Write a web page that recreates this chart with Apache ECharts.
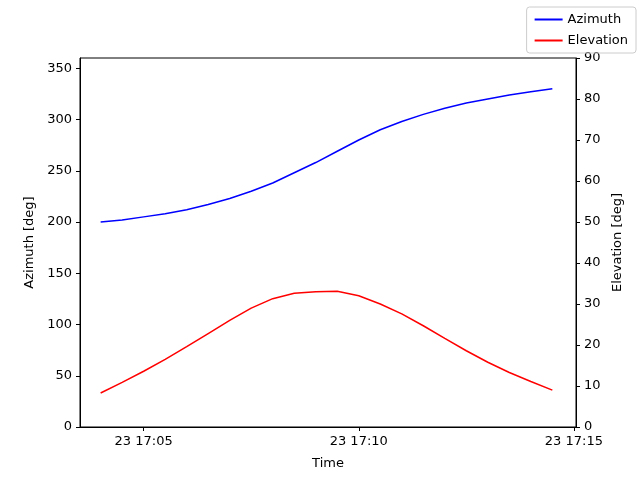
<!DOCTYPE html><html><head><meta charset="utf-8"><script src="https://cdn.jsdelivr.net/npm/echarts@6/dist/echarts.min.js"></script></head><body style="margin:0"><div id="c" style="width:640px;height:480px"></div><script>
const times=["17:04:00","17:04:30","17:05:00","17:05:30","17:06:00","17:06:30","17:07:00","17:07:30","17:08:00","17:08:30","17:09:00","17:09:30","17:10:00","17:10:30","17:11:00","17:11:30","17:12:00","17:12:30","17:13:00","17:13:30","17:14:00","17:14:30"];
const azimuth=[200,202,205,208,212,217,223,230,238,248,258,269,280,290,298,305,311,316,320,324,327,330];
const elevation=[8.3,10.9,13.6,16.5,19.6,22.8,26.0,29.0,31.3,32.6,33.0,33.1,32.0,30.0,27.6,24.7,21.6,18.6,15.8,13.3,11.1,9.0];
const xTicks=[5,10,15];
const toMin=t=>{const p=t.split(':').map(Number);return (p[0]-17)*60+p[1]+p[2]/60;};
const ax={axisLine:{show:true,lineStyle:{color:'#000'}},axisTick:{show:true,lineStyle:{color:'#000'},length:4},axisLabel:{color:'#000',fontSize:13,fontFamily:'DejaVu Sans'},splitLine:{show:false},nameTextStyle:{color:'#000',fontSize:13,fontFamily:'DejaVu Sans'}};
const ch=echarts.init(document.getElementById('c'));
ch.setOption({animation:false,
grid:{left:80,right:64,top:58,bottom:53,show:true,borderColor:'#000',borderWidth:1},
legend:{right:4,top:7,orient:'vertical',itemWidth:28,itemHeight:2,borderColor:'#ccc',borderWidth:1,borderRadius:3,padding:[6,8],itemGap:8,textStyle:{fontSize:13,fontFamily:'DejaVu Sans',color:'#000'},data:[{name:'Azimuth',icon:'rect'},{name:'Elevation',icon:'rect'}]},
xAxis:Object.assign({},ax,{type:'value',min:3.52,max:15.05,name:'Time',nameLocation:'middle',nameGap:30,
 axisTick:{show:true,length:4,lineStyle:{color:'#000'},customValues:xTicks},
 axisLabel:Object.assign({},ax.axisLabel,{customValues:xTicks,formatter:v=>'23 17:'+String(Math.round(v)).padStart(2,'0')})}),
yAxis:[Object.assign({},ax,{type:'value',min:0,max:360,interval:50,name:'Azimuth [deg]',nameLocation:'middle',nameGap:44,axisLabel:Object.assign({},ax.axisLabel,{showMaxLabel:false})}),
 Object.assign({},ax,{type:'value',min:0,max:90,interval:10,position:'right',name:'Elevation [deg]',nameLocation:'middle',nameGap:34,nameRotate:90})],
series:[{name:'Azimuth',type:'line',color:'#0000ff',showSymbol:false,lineStyle:{width:1.5},yAxisIndex:0,data:times.map((t,i)=>[toMin(t),azimuth[i]])},
{name:'Elevation',type:'line',color:'#ff0000',showSymbol:false,lineStyle:{width:1.5},yAxisIndex:1,data:times.map((t,i)=>[toMin(t),elevation[i]])}]});
</script></body></html>
